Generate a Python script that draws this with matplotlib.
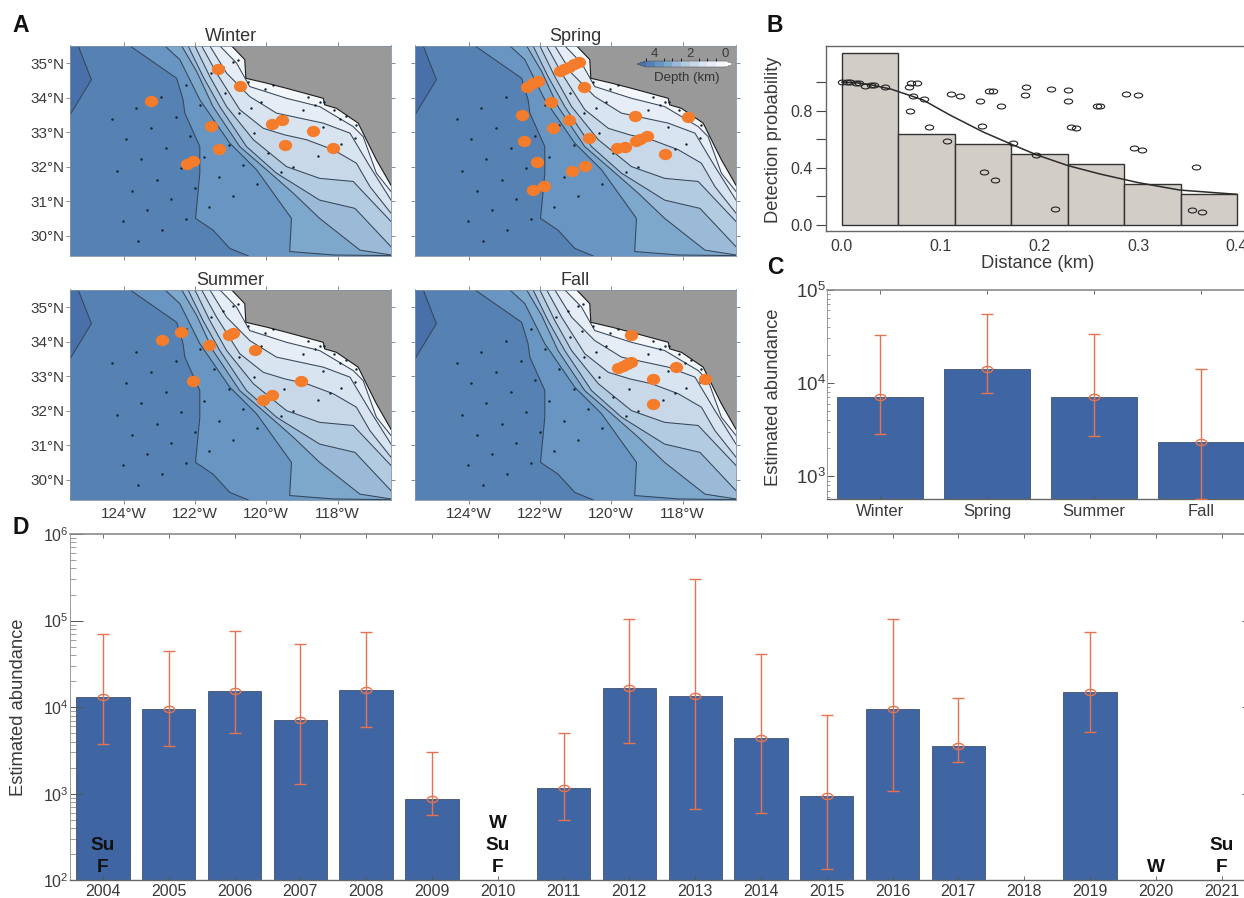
import matplotlib
matplotlib.use('Agg')
import matplotlib.pyplot as plt
import numpy as np
from matplotlib.cm import ScalarMappable
from matplotlib.colors import BoundaryNorm, ListedColormap
from matplotlib.path import Path
from matplotlib.transforms import Affine2D

plt.rcParams['font.family'] = ['Liberation Sans', 'DejaVu Sans']
plt.rcParams['mathtext.default'] = 'regular'
plt.rcParams['text.color'] = '#3a3a3a'
plt.rcParams['axes.labelcolor'] = '#3a3a3a'
plt.rcParams['xtick.labelcolor'] = '#3a3a3a'
plt.rcParams['ytick.labelcolor'] = '#3a3a3a'

W, H = 1244, 898

# bathymetry lines, (lon, lat), ordered from deep to shallow
iso_corner = [(-125.27, 35.5), (-124.90, 34.52), (-125.5, 33.50)]
iso_1 = [(-123.82, 35.5), (-122.51, 34.56), (-122.33, 33.94), (-122.28, 33.55), (-121.86, 32.58),
         (-121.86, 31.81), (-121.98, 30.50), (-121.49, 30.16), (-121.02, 29.63), (-120.50, 29.41)]
iso_2 = [(-122.84, 35.5), (-122.42, 35.10), (-121.86, 33.94), (-121.02, 32.68), (-120.27, 31.91),
         (-119.29, 30.50), (-119.34, 29.54), (-118.12, 29.44), (-116.5, 29.42)]
iso_3 = [(-122.37, 35.5), (-121.95, 34.76), (-121.49, 33.74), (-120.74, 32.58), (-119.99, 31.91),
         (-119.24, 31.23), (-118.50, 30.50), (-117.37, 29.58), (-116.5, 29.44)]
iso_4 = [(-122.19, 35.5), (-121.77, 34.61), (-121.30, 33.74), (-120.55, 32.58), (-119.71, 31.81),
         (-118.50, 31.03), (-117.51, 30.79), (-116.5, 29.68)]
iso_5 = [(-122.00, 35.5), (-121.58, 34.61), (-121.11, 33.74), (-120.36, 32.78), (-119.43, 32.00),
         (-118.50, 31.66), (-117.56, 31.57), (-116.5, 30.41)]
iso_6 = [(-121.81, 35.5), (-121.39, 34.71), (-120.74, 33.65), (-120.08, 33.11), (-119.48, 32.92),
         (-118.87, 32.78), (-118.12, 32.49), (-117.47, 32.10), (-117.09, 31.42), (-116.5, 30.65)]
iso_7 = [(-121.58, 35.5), (-121.11, 34.71), (-120.46, 34.03), (-119.71, 33.55), (-118.40, 33.26),
         (-117.65, 32.97), (-117.09, 32.00), (-116.5, 31.03)]
iso_8 = [(-121.30, 35.5), (-120.83, 35.00), (-120.46, 34.32), (-119.43, 33.98), (-118.50, 33.74),
         (-117.56, 33.16), (-117.28, 32.87), (-116.91, 31.81), (-116.5, 31.28)]
coast = [(-120.97, 35.5), (-120.60, 35.10), (-120.57, 34.56), (-119.99, 34.42), (-119.43, 34.27),
         (-118.40, 33.98), (-118.36, 33.79), (-118.03, 33.69), (-117.42, 33.26), (-117.19, 32.78),
         (-116.91, 32.20), (-116.5, 31.46)]

station_lon = [-123.59, -124.01, -122.93, -122.26, -123.34, -122.67, -121.60, -123.75, -123.07, -122.00,
               -120.93, -124.18, -123.50, -122.40, -121.33, -120.25, -123.92, -122.81, -121.73, -120.64,
               -119.58, -119.24, -124.33, -123.22, -122.13, -121.04, -119.96, -119.49, -123.64, -122.54,
               -121.45, -120.35, -122.94, -121.85, -120.77, -122.25, -121.16, -120.42, -120.14, -118.98,
               -118.64, -121.56, -120.81, -121.21, -120.93, -120.79, -120.50, -120.04, -119.80, -118.84,
               -118.48, -118.09, -117.92, -117.77, -117.47, -118.40, -117.89, -117.51, -118.21, -118.56,
               -118.39]
station_lat = [29.84, 30.41, 30.16, 30.49, 30.73, 31.05, 30.82, 31.30, 31.62, 31.38,
               31.16, 31.88, 32.21, 31.96, 31.71, 31.49, 32.79, 32.54, 32.29, 32.06,
               31.83, 31.98, 33.37, 33.12, 32.88, 32.63, 32.39, 32.63, 33.69, 33.45,
               33.21, 32.97, 34.03, 33.79, 33.55, 34.37, 34.13, 33.71, 33.86, 33.63,
               33.79, 34.71, 34.30, 34.88, 35.02, 35.09, 34.45, 34.26, 34.37, 34.01,
               33.86, 33.65, 33.38, 33.46, 33.21, 33.16, 32.66, 32.82, 32.50, 32.32,
               33.88]

winter_sight = [(-121.35, 34.84), (-120.74, 34.34), (-123.23, 33.90), (-119.57, 33.36), (-119.83, 33.23),
                (-118.68, 33.04), (-121.55, 33.18), (-119.46, 32.64), (-118.12, 32.53), (-121.32, 32.50),
                (-122.05, 32.16), (-122.21, 32.07)]
spring_sight = [(-120.90, 35.04), (-121.03, 34.97), (-121.17, 34.90), (-121.31, 34.83), (-121.44, 34.78),
                (-122.05, 34.49), (-122.19, 34.42), (-122.36, 34.32), (-120.76, 34.32), (-121.69, 33.88),
                (-119.32, 33.47), (-117.84, 33.43), (-122.49, 33.49), (-121.19, 33.35), (-121.64, 33.13),
                (-118.99, 32.89), (-119.18, 32.80), (-119.31, 32.74), (-120.63, 32.82), (-122.45, 32.75),
                (-119.60, 32.57), (-119.85, 32.54), (-118.48, 32.37), (-122.07, 32.13), (-120.74, 32.01),
                (-121.11, 31.86), (-121.88, 31.44), (-122.19, 31.31)]
summer_sight = [(-122.93, 34.06), (-122.38, 34.29), (-121.61, 33.90), (-120.93, 34.26), (-121.05, 34.19),
                (-120.32, 33.76), (-122.04, 32.87), (-119.03, 32.85), (-119.83, 32.44), (-120.08, 32.31)]
fall_sight = [(-119.45, 34.20), (-119.45, 33.40), (-119.57, 33.36), (-119.68, 33.30), (-119.80, 33.24),
              (-118.17, 33.25), (-117.36, 32.91), (-118.84, 32.93), (-118.82, 32.19)]

lat_ticks = [30, 31, 32, 33, 34, 35]
lon_ticks = [-124, -122, -120, -118]
depth_levels = [4.5, 4, 3.5, 3, 2.5, 2, 1.5, 1, 0.5, 0]

# panel B
bin_edges = [0, 0.0571, 0.1143, 0.1714, 0.2286, 0.2857, 0.3429, 0.4]
bin_heights = [1.207, 0.639, 0.566, 0.498, 0.426, 0.285, 0.213]
curve_x = [0, 0.015, 0.03, 0.05, 0.082, 0.109, 0.143, 0.173, 0.197, 0.229, 0.261, 0.30, 0.342, 0.40]
curve_y = [1.0, 0.995, 0.98, 0.95, 0.875, 0.77, 0.65, 0.56, 0.49, 0.414, 0.356, 0.295, 0.243, 0.213]
det_x = [0.0, 0.005, 0.008, 0.014, 0.017, 0.023, 0.029, 0.032, 0.044, 0.068, 0.070, 0.076, 0.072, 0.0685,
         0.083, 0.088, 0.106, 0.110, 0.119, 0.140, 0.142, 0.144, 0.155, 0.149, 0.153, 0.161, 0.173, 0.186,
         0.185, 0.196, 0.212, 0.216, 0.2285, 0.229, 0.232, 0.237, 0.258, 0.261, 0.288, 0.300, 0.296, 0.304,
         0.358, 0.354, 0.365]
det_y = [1.0, 1.0, 0.998, 0.992, 0.992, 0.975, 0.982, 0.982, 0.966, 0.966, 0.992, 0.992, 0.905, 0.80,
         0.882, 0.688, 0.585, 0.917, 0.905, 0.870, 0.690, 0.372, 0.316, 0.940, 0.938, 0.833, 0.575, 0.964,
         0.910, 0.489, 0.954, 0.108, 0.947, 0.868, 0.685, 0.676, 0.833, 0.833, 0.917, 0.910, 0.540, 0.522,
         0.405, 0.101, 0.087]

# panel C
seasons = ['Winter', 'Spring', 'Summer', 'Fall']
season_abund = [7112, 14060, 7050, 2350]
season_low = [2840, 7730, 2700, 570]
season_high = [32200, 54100, 33000, 14150]

# panel D
years = list(range(2004, 2022))
year_abund = [12940, 9570, 15170, 7140, 15730, 864, np.nan, 1167, 16430, 13520, 4460, 935, 9570, 3600, np.nan,
              15040, np.nan, np.nan]
year_low = [3800, 3570, 5050, 1288, 5870, 574, np.nan, 494, 3870, 662, 600, 135, 1069, 2333, np.nan,
            5230, np.nan, np.nan]
year_high = [69800, 44000, 75000, 53500, 73000, 3045, np.nan, 5050, 103000, 299000, 41400, 8150, 104000, 12820,
             np.nan, 73000, np.nan, np.nan]
no_data_text = {2004: 'Su\nF', 2010: 'W\nSu\nF', 2020: 'W', 2021: 'Su\nF'}

BAR_BLUE = '#3f65a3'
ERR_RED = '#e5734f'
ORANGE = '#f47c2b'
LINE = '#35465a'
depth_colors = ['#5581b3', '#6895c1', '#7ea7cc', '#9bbad7', '#b3cbe0', '#c8d8e8', '#d9e4f1', '#e6edf6', '#f3f6fb']
oval = Path.unit_circle().transformed(Affine2D().scale(1.7, 1))
blob = Path.unit_circle().transformed(Affine2D().scale(1.18, 1))

fig = plt.figure(figsize=(W / 100, H / 100), dpi=100)


def px_axes(left, top, right, bottom):
    return fig.add_axes([left / W, 1 - bottom / H, (right - left) / W, (bottom - top) / H])


def px_text(x, y, s, **kw):
    fig.text(x / W, 1 - y / H, s, **kw)


def draw_map(ax, sightings, title, show_lat, show_lon):
    ax.set_facecolor(depth_colors[0])
    ax.set_xlim(-125.5, -116.5)
    ax.set_ylim(29.41, 35.51)
    # each zone is the area on the shore side of its line, painted over the deeper one
    corner = np.array(iso_corner)
    ax.fill(np.r_[corner[:, 0], -125.5], np.r_[corner[:, 1], 35.51], color='#4a70a9', lw=0)
    ax.plot(corner[:, 0], corner[:, 1], color=LINE, lw=0.75)
    isos = [iso_1, iso_2, iso_3, iso_4, iso_5, iso_6, iso_7, iso_8]
    for iso, col in zip(isos, depth_colors[1:]):
        p = np.array(iso)
        ax.fill(np.r_[p[:, 0], -116.5, -116.5], np.r_[p[:, 1], 29.41, 35.51], color=col, lw=0)
        ax.plot(p[:, 0], p[:, 1], color=LINE, lw=0.75)
    land = np.array(coast)
    ax.fill(np.r_[land[:, 0], -116.5], np.r_[land[:, 1], 35.51], color='#999999', lw=0)
    ax.plot(land[:, 0], land[:, 1], color='#1c1c1c', lw=0.8)
    ax.scatter(station_lon, station_lat, s=3, color='#10202f', lw=0, zorder=3)
    sight = np.array(sightings)
    ax.plot(sight[:, 0], sight[:, 1], ls='none', marker=blob, ms=9.6, mfc=ORANGE, mew=0, zorder=4)
    ax.set_xticks(lon_ticks)
    ax.set_yticks(lat_ticks)
    ax.set_xticklabels([f'{-v}°W' for v in lon_ticks] if show_lon else [])
    ax.set_yticklabels([f'{v}°N' for v in lat_ticks] if show_lat else [])
    ax.tick_params(top=True, right=True, length=3, width=0.6, color='#777777', labelsize=11)
    ax.tick_params(axis='x', pad=2)
    ax.tick_params(axis='y', pad=1)
    for s in ax.spines.values():
        s.set_color('#7f93a8')
        s.set_linewidth(0.6)
    ax.set_title(title, fontsize=13, pad=3, color='#333333')


ax_w = px_axes(70, 45.5, 391, 256)
ax_sp = px_axes(415, 45.5, 736, 256)
ax_su = px_axes(70, 289.5, 391, 500)
ax_f = px_axes(415, 289.5, 736, 500)
draw_map(ax_w, winter_sight, 'Winter', True, False)
draw_map(ax_sp, spring_sight, 'Spring', False, False)
draw_map(ax_su, summer_sight, 'Summer', True, True)
draw_map(ax_f, fall_sight, 'Fall', False, True)

# depth key sits on the land in the spring map
cax = px_axes(637, 61, 734, 67)
cbar = fig.colorbar(ScalarMappable(norm=BoundaryNorm(depth_levels[::-1], 9), cmap=ListedColormap(depth_colors[::-1]).with_extremes(
    under='#ffffff', over='#4a70a9')), cax=cax, orientation='horizontal', extend='both',
    extendfrac=0.115, ticks=[0, 2, 4], spacing='uniform')
cax.invert_xaxis()
cax.xaxis.set_ticks_position('top')
cax.tick_params(length=0, labelsize=9.5, pad=1)
cax.set_xticklabels(['0', '2', '4'])
cbar.outline.set_linewidth(0.4)
cbar.outline.set_edgecolor('#555555')
cbar.dividers.set_color('#aab4c0')
cbar.dividers.set_linewidth(0.5)
px_text(687, 78, 'Depth (km)', fontsize=9.5, ha='center', va='center', color='#333333')

# detection function
ax_b = px_axes(826, 46, 1246, 231)
ax_b.set_xlim(-0.0162, 0.4091)
ax_b.set_ylim(-0.044, 1.253)
ax_b.bar(bin_edges[:-1], bin_heights, width=np.diff(bin_edges), align='edge', color='#d3cdc8', edgecolor='#333333', lw=1.0)
ax_b.plot(curve_x, curve_y, color='#2b2b2b', lw=1.1)
ax_b.plot(det_x, det_y, ls='none', marker=oval, ms=6, mfc='none', mec='#222222', mew=0.8)
ax_b.set_xticks([0, 0.1, 0.2, 0.3, 0.4])
ax_b.set_xticklabels(['0.0', '0.1', '0.2', '0.3', '0.4'])
ax_b.set_yticks([0, 0.2, 0.4, 0.6, 0.8, 1.0])
ax_b.set_yticklabels(['0.0', '', '0.4', '', '0.8', ''])
ax_b.tick_params(axis='y', length=7.5, width=0.8, color='#444444', labelsize=11.5, pad=2)
ax_b.tick_params(axis='x', length=0, labelsize=11.5, pad=5.5)
ax_b.spines['right'].set_visible(False)
for name in ['left', 'top', 'bottom']:
    ax_b.spines[name].set_color('#666666')
    ax_b.spines[name].set_linewidth(1.0)
px_text(1038, 263, 'Distance (km)', fontsize=13.2, ha='center', va='center')
px_text(774, 140, 'Detection probability', fontsize=13.2, rotation=90, ha='center', va='center')


def draw_errs(ax, x, mid, low, high, cap):
    mid, low, high = np.array(mid, float), np.array(low, float), np.array(high, float)
    ax.errorbar(x, mid, yerr=[mid - low, high - mid], fmt='none', ecolor=ERR_RED, elinewidth=1.0,
                capsize=cap, capthick=1.0, zorder=4)
    ax.plot(x, mid, ls='none', marker=oval, ms=7.5, mfc='none', mec=ERR_RED, mew=1.0, zorder=5)


def style_log(ax, major_len, minor_len, right):
    ax.set_yscale('log')
    ax.tick_params(axis='y', which='major', direction='in', length=major_len, width=0.7, color='#555555', right=right, pad=1)
    ax.tick_params(axis='y', which='minor', direction='in', length=minor_len, width=0.5, color='#777777', right=False)
    ax.tick_params(axis='x', direction='in', length=3, width=0.6, color='#555555', top=True)
    ax.yaxis.set_major_formatter(plt.FuncFormatter(lambda v, p: f'$10^{{{int(round(np.log10(v)))}}}$'))
    ax.yaxis.set_minor_formatter(plt.NullFormatter())
    ax.spines['right'].set_visible(False)
    ax.spines['top'].set_color('#8a8a8a')
    ax.spines['top'].set_linewidth(1.2)
    ax.spines['left'].set_color('#999999')
    ax.spines['left'].set_linewidth(0.7)
    ax.spines['bottom'].set_color('#666666')
    ax.spines['bottom'].set_linewidth(1.0)


# seasonal abundance
ax_c = px_axes(827, 289.5, 1246, 499)
c_x = np.arange(len(seasons))
ax_c.bar(c_x, season_abund, width=0.8, color=BAR_BLUE, edgecolor='#2c3f60', lw=0.5)
draw_errs(ax_c, c_x, season_abund, season_low, season_high, 4)
style_log(ax_c, 5, 2.5, False)
ax_c.set_xlim(-0.495, 3.42)
ax_c.set_ylim(573, 1e5)
ax_c.set_yticks([1e3, 1e4, 1e5])
ax_c.set_xticks(c_x)
ax_c.set_xticklabels(seasons)
ax_c.tick_params(axis='x', labelsize=12, pad=3.5)
ax_c.tick_params(axis='y', which='major', labelsize=13.5)
px_text(774, 397, 'Estimated abundance', fontsize=13.2, rotation=90, ha='center', va='center')

# yearly abundance
ax_d = px_axes(70, 534, 1246, 880.3)
d_x = np.arange(len(years))
ax_d.bar(d_x, year_abund, width=0.81, color=BAR_BLUE, edgecolor='#2c3f60', lw=0.5)
draw_errs(ax_d, d_x, year_abund, year_low, year_high, 4.5)
style_log(ax_d, 9, 4, True)
ax_d.set_xlim(-0.5, 17.37)
ax_d.set_ylim(100, 1e6)
ax_d.set_yticks([1e2, 1e3, 1e4, 1e5, 1e6])
ax_d.set_xticks(d_x)
ax_d.set_xticklabels(years)
ax_d.tick_params(axis='x', labelsize=11.5, pad=3)
ax_d.tick_params(axis='y', which='major', labelsize=11.5)
# only the tips of the right ticks show, the right side of the panel is cropped
for tick in ax_d.yaxis.get_major_ticks():
    tick.tick2line.set_markersize(3)
for yr, label in no_data_text.items():
    ax_d.annotate(label, (years.index(yr), 100), xytext=(0, 3), textcoords='offset points', ha='center', va='bottom',
                  fontsize=13.7, fontweight='bold', color='#111111', linespacing=1.38, zorder=6)
px_text(19, 707, 'Estimated abundance', fontsize=13.2, rotation=90, ha='center', va='center')

for label, x, y in [('A', 21, 25), ('B', 775, 25), ('C', 775, 268), ('D', 21, 528)]:
    px_text(x, y, label, fontsize=16.5, fontweight='bold', ha='center', va='center', color='#111111')

fig.savefig('out.png', dpi=100)
